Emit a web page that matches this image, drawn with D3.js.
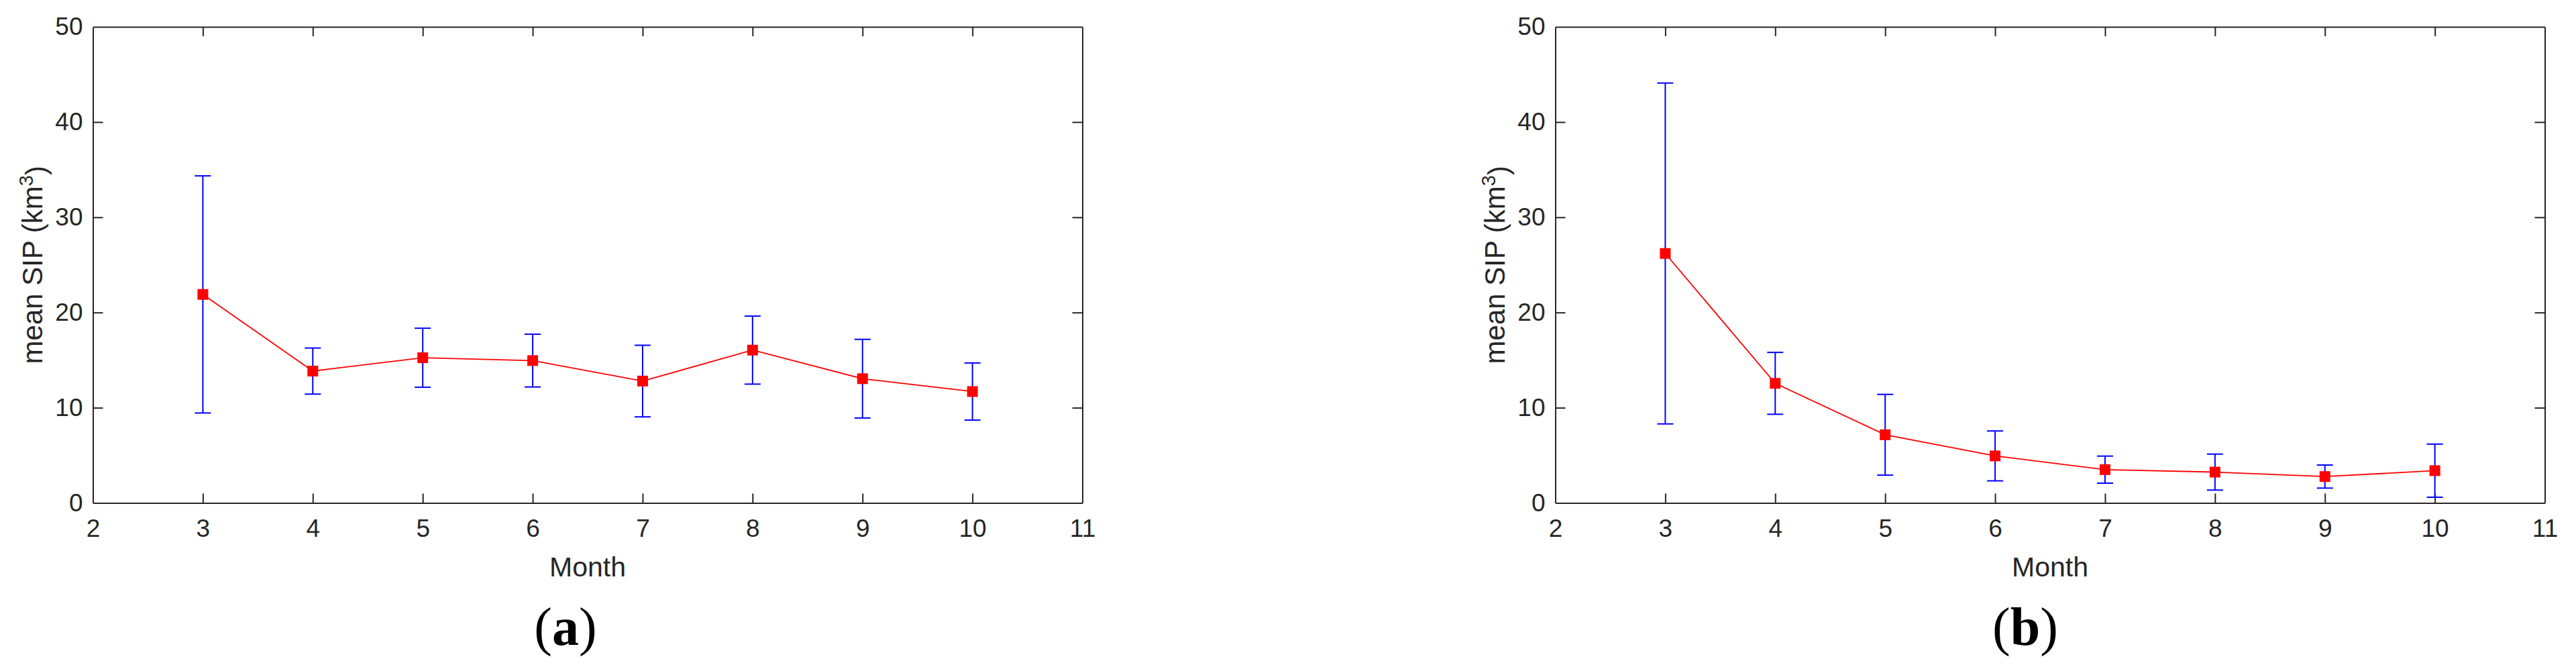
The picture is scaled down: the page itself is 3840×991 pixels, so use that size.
<!DOCTYPE html>
<html>
<head>
<meta charset="utf-8">
<script src="https://cdn.jsdelivr.net/npm/d3@7"></script>
<style>
  html, body { margin: 0; padding: 0; background: #fff; }
  svg { display: block; }
</style>
</head>
<body>
<svg id="chart" width="3840" height="991"></svg>
<script>
// ---- data ----
const months = [3, 4, 5, 6, 7, 8, 9, 10];
const meanA = [21.9, 13.85, 15.25, 14.95, 12.8, 16.05, 13.05, 11.7];
const errA  = [12.45, 2.42, 3.1, 2.77, 3.76, 3.57, 4.13, 3.0];
const meanB = [26.2, 12.56, 7.16, 4.94, 3.5, 3.24, 2.77, 3.39];
const errB  = [17.9, 3.25, 4.24, 2.62, 1.42, 1.89, 1.21, 2.79];
const xTicks = [2, 3, 4, 5, 6, 7, 8, 9, 10, 11];
const yTicks = [0, 10, 20, 30, 40, 50];
const xDomain = [2, 11];
const yDomain = [0, 50];
const panelLabels = ["(a)", "(b)"];
const xLabel = "Month";

// ---- layout ----
const svg = d3.select("#chart");
const W = 1475, H = 709.5, TOP = 40;
const panels = [
  { left: 138.5, mean: meanA, err: errA, label: panelLabels[0], labelOff: -33 },
  { left: 2318.5, mean: meanB, err: errB, label: panelLabels[1], labelOff: -37 }
];
const axisColor = "#262626";
const font = "'Liberation Sans', Arial, Helvetica, sans-serif";

panels.forEach(p => {
  const g = svg.append("g").attr("transform", `translate(${p.left},${TOP})`);
  const x = d3.scaleLinear().domain(xDomain).range([0, W]);
  const y = d3.scaleLinear().domain(yDomain).range([H, 0]);

  // axes
  const gb = g.append("g").attr("transform", `translate(0,${H})`)
    .call(d3.axisBottom(x).tickValues(xTicks).tickFormat(d3.format("d"))
      .tickSize(-14).tickSizeOuter(0).tickPadding(24));
  const gt = g.append("g")
    .call(d3.axisTop(x).tickValues(xTicks).tickFormat("")
      .tickSize(-14).tickSizeOuter(0));
  const gl = g.append("g")
    .call(d3.axisLeft(y).tickValues(yTicks).tickFormat(d3.format("d"))
      .tickSize(-15).tickSizeOuter(0).tickPadding(15));
  const gr = g.append("g").attr("transform", `translate(${W},0)`)
    .call(d3.axisRight(y).tickValues(yTicks).tickFormat("")
      .tickSize(-15).tickSizeOuter(0));
  [gb, gt, gl, gr].forEach(a => {
    a.selectAll("path.domain").attr("stroke", axisColor).attr("stroke-width", 2);
    a.selectAll(".tick line").attr("stroke", axisColor).attr("stroke-width", 2);
    a.selectAll(".tick text").attr("fill", axisColor)
      .style("font-family", font).style("font-size", "37px");
  });
  // hide edge ticks that coincide with box corners
  gb.selectAll(".tick").filter(d => d === xDomain[0] || d === xDomain[1]).select("line").remove();
  gt.selectAll(".tick").filter(d => d === xDomain[0] || d === xDomain[1]).select("line").remove();
  gl.selectAll(".tick").filter(d => d === yDomain[0] || d === yDomain[1]).select("line").remove();
  gr.selectAll(".tick").filter(d => d === yDomain[0] || d === yDomain[1]).select("line").remove();

  const data = months.map((m, i) => ({ m, v: p.mean[i], e: p.err[i] }));

  // error bars
  const eb = g.append("g").attr("stroke", "#0000ff").attr("stroke-width", 2).attr("fill", "none");
  const cap = 12;
  data.forEach(d => {
    eb.append("line").attr("x1", x(d.m)).attr("x2", x(d.m))
      .attr("y1", y(d.v - d.e)).attr("y2", y(d.v + d.e));
    eb.append("line").attr("x1", x(d.m) - cap).attr("x2", x(d.m) + cap)
      .attr("y1", y(d.v - d.e)).attr("y2", y(d.v - d.e));
    eb.append("line").attr("x1", x(d.m) - cap).attr("x2", x(d.m) + cap)
      .attr("y1", y(d.v + d.e)).attr("y2", y(d.v + d.e));
  });

  // mean line
  g.append("path").datum(data)
    .attr("fill", "none").attr("stroke", "#ff0000").attr("stroke-width", 1.8)
    .attr("d", d3.line().x(d => x(d.m)).y(d => y(d.v)));

  // markers
  const ms = 16;
  g.selectAll("rect.mk").data(data).join("rect").attr("class", "mk")
    .attr("x", d => x(d.m) - ms / 2).attr("y", d => y(d.v) - ms / 2)
    .attr("width", ms).attr("height", ms).attr("fill", "#ff0000");

  // x label
  g.append("text").attr("x", W / 2).attr("y", H + 109)
    .attr("text-anchor", "middle").attr("fill", axisColor)
    .style("font-family", font).style("font-size", "41px").text(xLabel);

  // y label
  const yl = g.append("text")
    .attr("transform", `translate(-76,${H / 2}) rotate(-90)`)
    .attr("text-anchor", "middle").attr("fill", axisColor)
    .style("font-family", font).style("font-size", "42px");
  yl.append("tspan").text("mean SIP (km");
  yl.append("tspan").attr("dy", "-0.45em").style("font-size", "29px").text("3");
  yl.append("tspan").attr("dy", "0.45em").text(")");

  // panel label
  const pl = svg.append("text")
    .attr("x", p.left + W / 2 + p.labelOff).attr("y", 961)
    .attr("text-anchor", "middle").attr("fill", "#000")
    .style("font-family", "'Liberation Serif', 'Times New Roman', serif")
    .style("font-size", "80px");
  const m = p.label.match(/^\((.*)\)$/);
  pl.append("tspan").text("(");
  pl.append("tspan").style("font-weight", "bold").text(m ? m[1] : p.label);
  pl.append("tspan").text(")");
});
</script>
</body>
</html>
